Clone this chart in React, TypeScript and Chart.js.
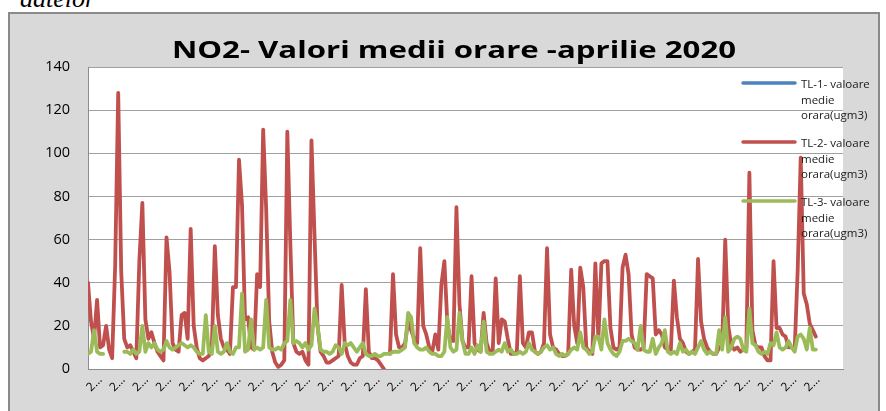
import React, { useEffect, useRef } from "react";
import { Chart, registerables } from "chart.js";

Chart.register(...registerables);

const chartTitle = "NO2- Valori medii orare -aprilie 2020";
const pageNote = "datelor";

// hours between consecutive readings kept in the arrays
const HOURS_STEP = 3;

const seriesLabels = [
  "TL-1- valoare medie orara(ugm3)",
  "TL-2- valoare medie orara(ugm3)",
  "TL-3- valoare medie orara(ugm3)",
];
const seriesColors = ["#4F81BD", "#C0504D", "#9BBB59"];

const tl1Values: (number | null)[] = [];

const tl2Values: (number | null)[] = [
  40, 22, 14, 32, 10, 11, 20, 9, 5, 48,
  128, 45, 14, 10, 11, 8, 5, 50, 77, 23,
  14, 17, 12, 8, 6, 4, 61, 45, 12, 9,
  8, 25, 26, 14, 65, 20, 10, 5, 4, 5,
  6, 10, 57, 25, 14, 10, 9, 7, 38, 38,
  97, 76, 23, 24, 10, 9, 44, 38, 111, 74,
  22, 8, 3, 1, 2, 4, 110, 58, 12, 8,
  7, 8, 4, 2, 106, 62, 20, 8, 6, 3,
  3, 4, 5, 6, 39, 12, 6, 3, 2, 2,
  5, 6, 37, 8, 5, 5, 4, 2, 0, null,
  7, 44, 16, 10, 10, 12, 22, 18, 14, 12,
  56, 20, 16, 10, 8, 16, 9, 39, 50, 21,
  13, 13, 75, 30, 13, 10, 10, 43, 12, 9,
  8, 26, 12, 8, 8, 42, 12, 23, 22, 14,
  7, 7, 8, 43, 12, 10, 17, 17, 8, 7,
  8, 12, 56, 16, 10, 9, 7, 6, 6, 7,
  46, 20, 12, 47, 38, 10, 8, 7, 49, 14,
  49, 50, 50, 19, 10, 9, 10, 47, 53, 44,
  16, 10, 9, 9, 10, 44, 43, 42, 16, 18,
  16, 10, 9, 9, 41, 24, 14, 12, 8, 7,
  8, 9, 51, 22, 14, 10, 8, 7, 7, 10,
  11, 60, 20, 11, 9, 10, 8, 9, 10, 91,
  18, 11, 10, 10, 6, 4, 4, 50, 19, 19,
  16, 15, 10, 10, 9, 46, 98, 35, 30, 21,
  18, 15,
];

const tl3Values: (number | null)[] = [
  7, 8, 18, 8, 7, 7, null, null, null, null,
  null, null, 8, 8, 7, 9, 7, 8, 20, 8,
  12, 10, 12, 9, 8, 9, 13, 10, 9, 10,
  11, 12, 11, 10, 11, 10, 8, 7, 7, 25,
  8, 7, 20, 8, 7, 8, 12, 8, 7, 10,
  10, 35, 8, 9, 23, 9, 10, 9, 10, 32,
  10, 9, 9, 10, 9, 12, 13, 32, 12, 13,
  12, 10, 12, 9, 11, 28, 20, 9, 8, 8,
  7, 8, 11, 10, 7, 12, 11, 12, 10, 8,
  10, 12, 7, 6, 6, 7, 6, 6, 7, 7,
  7, 8, 8, 8, 9, 10, 26, 24, 12, 10,
  9, 9, 10, 8, 7, 7, 6, 6, 8, 24,
  10, 8, 9, 26, 13, 7, 7, 10, 7, 11,
  8, 22, 8, 7, 7, 8, 9, 8, 12, 8,
  9, 7, 7, 8, 7, 8, 12, 9, 8, 7,
  8, 10, 11, 9, 10, 7, 6, 7, 6, 7,
  9, 10, 9, 17, 10, 9, 7, 8, 15, 15,
  9, 23, 12, 9, 7, 6, 8, 13, 13, 14,
  13, 12, 9, 20, 9, 8, 8, 14, 7, 10,
  12, 18, 8, 7, 8, 7, 12, 8, 9, 7,
  8, 7, 10, 13, 9, 7, 8, 7, 7, 18,
  9, 24, 8, 10, 14, 15, 14, 9, 8, 28,
  12, 11, 8, 7, 8, 7, 12, 11, 17, 10,
  9, 10, 13, 10, 8, 15, 16, 14, 9, 19,
  9, 9,
];

// category (date) tick positions in hours, and the truncated date label Excel shows
const xTickHours = [
  12, 35, 58, 81, 104, 127, 150, 173, 196, 219, 242, 265, 288, 311, 334, 357,
  380, 403, 426, 449, 472, 495, 518, 541, 564, 587, 610, 633, 656, 679, 702, 725,
];
const xTickLabel = "2…";
const xAxisMaxHours = 750;
const yMin = 0;
const yMax = 140;
const yStep = 20;

const toPoints = (vals: (number | null)[]) =>
  vals.map((v, i) => ({ x: i * HOURS_STEP, y: v }));

const plotBgPlugin = {
  id: "plotBg",
  beforeDraw(chart: any) {
    const { ctx, chartArea } = chart;
    ctx.save();
    ctx.fillStyle = "#ffffff";
    ctx.fillRect(
      chartArea.left,
      chartArea.top,
      chartArea.right - chartArea.left,
      chartArea.bottom - chartArea.top
    );
    ctx.restore();
  },
};

// the chart title, drawn slightly widened like the stretched original picture
const titlePlugin = {
  id: "wideTitle",
  afterDraw(chart: any) {
    const { ctx } = chart;
    ctx.save();
    ctx.font = "bold 24px 'Open Sans'";
    ctx.fillStyle = "#000000";
    ctx.textAlign = "center";
    ctx.textBaseline = "alphabetic";
    ctx.translate(chart.width / 2 + 10, 44);
    ctx.scale(1.3, 1);
    ctx.fillText(chartTitle, 0, 0);
    ctx.restore();
  },
};

const sideLegendPlugin = {
  id: "sideLegend",
  afterDatasetsDraw(chart: any) {
    const { ctx, chartArea } = chart;
    const x0 = chartArea.right - 100;
    chart.data.datasets.forEach((ds: any, k: number) => {
      const y = chartArea.top + 16 + k * 59;
      ctx.save();
      ctx.strokeStyle = ds.borderColor;
      ctx.lineWidth = 3.5;
      ctx.lineCap = "round";
      ctx.beginPath();
      ctx.moveTo(x0, y);
      ctx.lineTo(x0 + 52, y);
      ctx.stroke();
      ctx.fillStyle = "#1a1a1a";
      ctx.font = "11.5px 'Open Sans'";
      ctx.textBaseline = "middle";
      ctx.textAlign = "left";
      const words = String(ds.label).split(" ");
      const lines = [words.slice(0, 2).join(" "), words[2], words[3]];
      lines.forEach((t, j) => ctx.fillText(t, x0 + 58, y + 2 + j * 15.5));
      ctx.restore();
    });
  },
};

function NO2Chart() {
  const ref = useRef<HTMLCanvasElement | null>(null);
  useEffect(() => {
    if (!ref.current) return;
    const series = [tl1Values, tl2Values, tl3Values];
    const chart = new Chart(ref.current, {
      type: "line",
      data: {
        datasets: series.map((vals, k) => ({
          label: seriesLabels[k],
          data: toPoints(vals),
          borderColor: seriesColors[k],
          backgroundColor: seriesColors[k],
          borderWidth: 3.8,
          pointRadius: 0,
          tension: 0,
          spanGaps: false,
          borderJoinStyle: "round" as const,
          borderCapStyle: "round" as const,
          order: 2 - k,
        })),
      },
      options: {
        animation: false,
        responsive: false,
        maintainAspectRatio: false,
        events: [],
        layout: { padding: { left: 0, right: 35, top: 53, bottom: 0 } },
        plugins: {
          legend: { display: false },
          tooltip: { enabled: false },
          title: { display: false },
        },
        scales: {
          x: {
            type: "linear",
            min: 0,
            max: xAxisMaxHours,
            grid: { display: false, drawTicks: false },
            border: { display: true, color: "#8c8c8c", width: 1 },
            afterBuildTicks: (scale: any) => {
              scale.ticks = xTickHours.map((v) => ({ value: v }));
            },
            afterFit: (scale: any) => {
              scale.height = 42;
            },
            ticks: {
              autoSkip: false,
              maxRotation: 45,
              minRotation: 45,
              padding: 4,
              color: "#000000",
              font: { family: "'Open Sans'", size: 12 },
              callback: () => xTickLabel,
            },
          },
          y: {
            min: yMin,
            max: yMax,
            grid: { color: "#a0a0a0", lineWidth: 1, drawTicks: false },
            border: { display: true, color: "#8c8c8c", width: 1 },
            afterFit: (scale: any) => {
              scale.width = 78;
            },
            ticks: {
              stepSize: yStep,
              padding: 18,
              color: "#000000",
              font: { family: "'Open Sans'", size: 14.5 },
            },
          },
        },
      },
      plugins: [plotBgPlugin, sideLegendPlugin, titlePlugin],
    });
    return () => chart.destroy();
  }, []);
  return (
    <canvas
      ref={ref}
      width={868}
      height={397}
      style={{ position: "absolute", left: 0, top: 0, width: 868, height: 397 }}
    />
  );
}

export default function App() {
  return (
    <div
      style={{
        position: "fixed",
        left: 0,
        top: 0,
        width: 886,
        height: 411,
        overflow: "hidden",
        background: "#ffffff",
      }}
    >
      <div
        style={{
          position: "absolute",
          left: 20,
          top: -14,
          fontFamily: "'Liberation Serif', serif",
          fontStyle: "italic",
          fontSize: 26,
          lineHeight: "26px",
          color: "#000",
        }}
      >
        {pageNote}
      </div>
      <div
        style={{
          position: "absolute",
          left: 8,
          top: 12,
          width: 872,
          height: 410,
          boxSizing: "border-box",
          border: "2px solid #8a8a8a",
          background: "#d9d9d9",
        }}
      >
        <NO2Chart />
      </div>
    </div>
  );
}
